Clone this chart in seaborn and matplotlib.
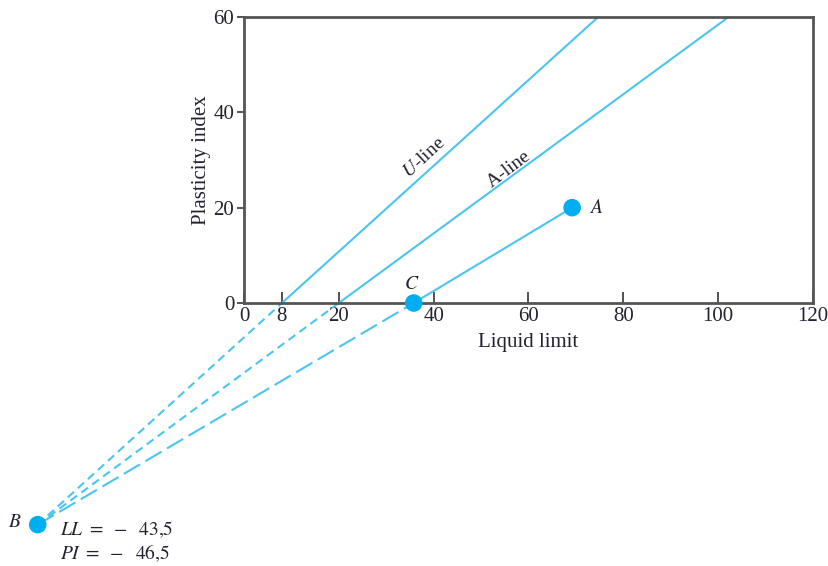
import matplotlib
matplotlib.use("Agg")
import matplotlib.pyplot as plt
import seaborn as sns
import pandas as pd

sns.set_theme(style="white")
plt.rcParams['font.family'] = ['Liberation Serif', 'DejaVu Serif']
plt.rcParams['mathtext.fontset'] = 'stix'

# Data
u_ll = [-43.5, 8, 74.7]
u_pi = [-46.5, 0, 60]
a_ll = [-43.5, 20, 102.2]
a_pi = [-46.5, 0, 60]
bca_ll = [-43.5, 35.8, 69.2]
bca_pi = [-46.5, 0, 20]
pts_name = ["A", "B", "C"]
pts_ll = [69.2, -43.5, 35.8]
pts_pi = [20, -46.5, 0]
x_ticks = [0, 8, 20, 40, 60, 80, 100, 120]
y_ticks = [0, 20, 40, 60]

line_col = "#4CC4F2"
pt_col = "#00AEEF"
txt_col = "#222233"
fs = 15

fig = plt.figure(figsize=(8.29, 5.66), dpi=100)
ax = fig.add_axes([244/829, 1-303/566, 569/829, 286/566])

def seg(ll, pi, i, j, dashes):
    df = pd.DataFrame({"LL": ll[i:j+1], "PI": pi[i:j+1]})
    sns.lineplot(data=df, x="LL", y="PI", ax=ax, color=line_col, lw=1.5,
                 sort=False, estimator=None)
    l = ax.lines[-1]
    l.set_clip_on(False)
    if dashes:
        l.set_dashes(dashes)

# U-line
seg(u_ll, u_pi, 0, 1, (4, 2.5))
seg(u_ll, u_pi, 1, 2, None)
# A-line
seg(a_ll, a_pi, 0, 1, (4, 2.5))
seg(a_ll, a_pi, 1, 2, None)
# B-C-A
seg(bca_ll, bca_pi, 0, 1, (9, 3))
seg(bca_ll, bca_pi, 1, 2, None)

pdf = pd.DataFrame({"LL": pts_ll, "PI": pts_pi, "name": pts_name})
sns.scatterplot(data=pdf, x="LL", y="PI", ax=ax, color=pt_col, s=160,
                edgecolor="none", clip_on=False, zorder=5)
for c in ax.collections:
    c.set_clip_on(False)

ax.set_xlim(0, 120)
ax.set_ylim(0, 60)
ax.set_xticks(x_ticks)
ax.set_yticks(y_ticks)
ax.tick_params(axis='x', direction='in', length=8, width=1.3, color="#444444",
               labelsize=fs, labelcolor=txt_col, pad=3, bottom=True)
ax.tick_params(axis='y', direction='out', length=5, width=1.3, color="#444444",
               labelsize=fs, labelcolor=txt_col, pad=2, left=True)
for s in ax.spines.values():
    s.set_color("#555555")
    s.set_linewidth(2.0)
    s.set_visible(True)

ax.set_xlabel("Liquid limit", fontsize=fs, color=txt_col, labelpad=5)
ax.set_ylabel("Plasticity index", fontsize=fs, color=txt_col, labelpad=2)

ax.text(38.0, 30.5, "$U$-line", rotation=43, fontsize=fs - 1, color=txt_col,
        ha='center', va='center', rotation_mode='anchor')
ax.text(55.8, 28.0, "A-line", rotation=37, fontsize=fs - 1, color=txt_col,
        ha='center', va='center', rotation_mode='anchor')
ax.text(pts_ll[0] + 3.5, pts_pi[0], "$A$", fontsize=fs - 1, color=txt_col,
        ha='left', va='center')
ax.text(pts_ll[2] - 0.5, pts_pi[2] + 2.2, "$C$", fontsize=fs - 1, color=txt_col,
        ha='center', va='bottom', clip_on=False)
ax.text(pts_ll[1] - 3.4, pts_pi[1] + 0.4, "$B$", fontsize=fs - 1, color=txt_col,
        ha='right', va='center', clip_on=False)
ax.text(pts_ll[1] + 4.8, pts_pi[1] - 1.0, r"$LL\ =\ -\ \ \mathrm{43{,}5}$",
        fontsize=fs - 1, color=txt_col, ha='left', va='center', clip_on=False)
ax.text(pts_ll[1] + 4.8, pts_pi[1] - 6.0, r"$PI\ =\ -\ \ \mathrm{46{,}5}$",
        fontsize=fs - 1, color=txt_col, ha='left', va='center', clip_on=False)

fig.savefig("out.png", dpi=100)
